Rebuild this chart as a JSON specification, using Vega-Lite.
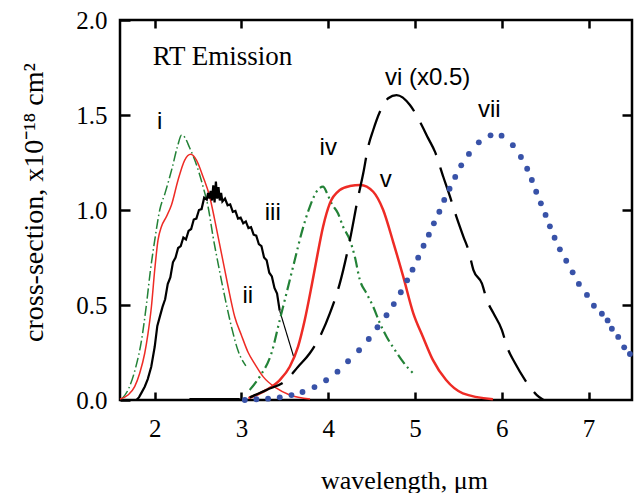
{
  "$schema": "https://vega.github.io/schema/vega-lite/v6.json",
  "width": 512,
  "height": 380,
  "autosize": {"type": "none"},
  "padding": {"left": 120, "top": 20, "right": 4, "bottom": 93},
  "background": "white",
  "datasets": {
    "curves": [
      {"s":"i","x":1.62,"y":0.005},{"s":"i","x":1.70,"y":0.06},{"s":"i","x":1.78,"y":0.17},{"s":"i","x":1.85,"y":0.32},{"s":"i","x":1.904,"y":0.5},{"s":"i","x":1.95,"y":0.68},{"s":"i","x":2.0,"y":0.84},{"s":"i","x":2.058,"y":1.0},{"s":"i","x":2.12,"y":1.09},{"s":"i","x":2.2,"y":1.22},{"s":"i","x":2.26,"y":1.33},{"s":"i","x":2.31,"y":1.395},{"s":"i","x":2.35,"y":1.38},{"s":"i","x":2.4,"y":1.33},{"s":"i","x":2.48,"y":1.24},{"s":"i","x":2.557,"y":1.123},{"s":"i","x":2.615,"y":1.017},{"s":"i","x":2.672,"y":0.86},{"s":"i","x":2.73,"y":0.719},{"s":"i","x":2.807,"y":0.544},{"s":"i","x":2.884,"y":0.386},{"s":"i","x":2.96,"y":0.26},{"s":"i","x":3.05,"y":0.18},
      {"s":"ii","x":1.6,"y":0.005},{"s":"ii","x":1.692,"y":0.026},{"s":"ii","x":1.769,"y":0.07},{"s":"ii","x":1.827,"y":0.141},{"s":"ii","x":1.885,"y":0.246},{"s":"ii","x":1.923,"y":0.351},{"s":"ii","x":1.962,"y":0.491},{"s":"ii","x":2.0,"y":0.684},{"s":"ii","x":2.038,"y":0.842},{"s":"ii","x":2.077,"y":0.912},{"s":"ii","x":2.135,"y":0.965},{"s":"ii","x":2.193,"y":1.026},{"s":"ii","x":2.269,"y":1.158},{"s":"ii","x":2.346,"y":1.263},{"s":"ii","x":2.415,"y":1.293},{"s":"ii","x":2.481,"y":1.263},{"s":"ii","x":2.557,"y":1.175},{"s":"ii","x":2.634,"y":1.07},{"s":"ii","x":2.692,"y":0.947},{"s":"ii","x":2.769,"y":0.772},{"s":"ii","x":2.846,"y":0.596},{"s":"ii","x":2.922,"y":0.438},{"s":"ii","x":3.0,"y":0.34},{"s":"ii","x":3.077,"y":0.25},{"s":"ii","x":3.153,"y":0.19},{"s":"ii","x":3.249,"y":0.123},{"s":"ii","x":3.403,"y":0.062},{"s":"ii","x":3.556,"y":0.026},{"s":"ii","x":3.79,"y":0.005},
      {"s":"iii","x":1.79,"y":0.0},{"s":"iii","x":1.82,"y":0.015},{"s":"iii","x":1.85,"y":0.04},{"s":"iii","x":1.885,"y":0.07},{"s":"iii","x":1.92,"y":0.11},{"s":"iii","x":1.96,"y":0.175},{"s":"iii","x":2.0,"y":0.28},{"s":"iii","x":2.03,"y":0.39},{"s":"iii","x":2.06,"y":0.44},{"s":"iii","x":2.09,"y":0.49},{"s":"iii","x":2.12,"y":0.53},{"s":"iii","x":2.15,"y":0.61},{"s":"iii","x":2.18,"y":0.645},{"s":"iii","x":2.21,"y":0.725},{"s":"iii","x":2.24,"y":0.75},{"s":"iii","x":2.27,"y":0.8},{"s":"iii","x":2.3,"y":0.81},{"s":"iii","x":2.33,"y":0.855},{"s":"iii","x":2.36,"y":0.845},{"s":"iii","x":2.39,"y":0.89},{"s":"iii","x":2.42,"y":0.9},{"s":"iii","x":2.45,"y":0.95},{"s":"iii","x":2.48,"y":0.955},{"s":"iii","x":2.51,"y":1.0},{"s":"iii","x":2.54,"y":1.005},{"s":"iii","x":2.57,"y":1.065},{"s":"iii","x":2.6,"y":1.055},{"s":"iii","x":2.615,"y":1.09},{"s":"iii","x":2.63,"y":1.06},{"s":"iii","x":2.645,"y":1.1},{"s":"iii","x":2.66,"y":1.05},{"s":"iii","x":2.675,"y":1.13},{"s":"iii","x":2.69,"y":1.04},{"s":"iii","x":2.705,"y":1.15},{"s":"iii","x":2.72,"y":1.06},{"s":"iii","x":2.735,"y":1.12},{"s":"iii","x":2.75,"y":1.05},{"s":"iii","x":2.765,"y":1.09},{"s":"iii","x":2.78,"y":1.045},{"s":"iii","x":2.81,"y":1.06},{"s":"iii","x":2.84,"y":1.025},{"s":"iii","x":2.87,"y":1.03},{"s":"iii","x":2.9,"y":0.99},{"s":"iii","x":2.93,"y":0.995},{"s":"iii","x":2.96,"y":0.955},{"s":"iii","x":2.99,"y":0.96},{"s":"iii","x":3.02,"y":0.93},{"s":"iii","x":3.05,"y":0.94},{"s":"iii","x":3.08,"y":0.905},{"s":"iii","x":3.11,"y":0.91},{"s":"iii","x":3.14,"y":0.87},{"s":"iii","x":3.17,"y":0.865},{"s":"iii","x":3.2,"y":0.82},{"s":"iii","x":3.23,"y":0.81},{"s":"iii","x":3.26,"y":0.75},{"s":"iii","x":3.29,"y":0.735},{"s":"iii","x":3.32,"y":0.67},{"s":"iii","x":3.35,"y":0.65},{"s":"iii","x":3.38,"y":0.59},{"s":"iii","x":3.41,"y":0.56},{"s":"iii","x":3.44,"y":0.47},
      {"s":"iiitail","x":3.44,"y":0.47},{"s":"iiitail","x":3.6,"y":0.23},
      {"s":"base","x":2.4,"y":0.006},{"s":"base","x":2.98,"y":0.006},
      {"s":"iv","x":3.095,"y":0.053},{"s":"iv","x":3.21,"y":0.123},{"s":"iv","x":3.345,"y":0.246},{"s":"iv","x":3.441,"y":0.421},{"s":"iv","x":3.518,"y":0.561},{"s":"iv","x":3.614,"y":0.737},{"s":"iv","x":3.691,"y":0.877},{"s":"iv","x":3.787,"y":1.017},{"s":"iv","x":3.864,"y":1.096},{"s":"iv","x":3.94,"y":1.123},{"s":"iv","x":3.986,"y":1.088},{"s":"iv","x":4.037,"y":1.035},{"s":"iv","x":4.113,"y":0.982},{"s":"iv","x":4.171,"y":0.912},{"s":"iv","x":4.249,"y":0.842},{"s":"iv","x":4.306,"y":0.754},{"s":"iv","x":4.364,"y":0.632},{"s":"iv","x":4.441,"y":0.561},{"s":"iv","x":4.518,"y":0.491},{"s":"iv","x":4.595,"y":0.404},{"s":"iv","x":4.672,"y":0.333},{"s":"iv","x":4.768,"y":0.263},{"s":"iv","x":4.845,"y":0.211},{"s":"iv","x":4.922,"y":0.167},{"s":"iv","x":4.999,"y":0.132},
      {"s":"v","x":3.08,"y":0.01},{"s":"v","x":3.288,"y":0.053},{"s":"v","x":3.441,"y":0.105},{"s":"v","x":3.556,"y":0.175},{"s":"v","x":3.652,"y":0.281},{"s":"v","x":3.729,"y":0.421},{"s":"v","x":3.806,"y":0.596},{"s":"v","x":3.864,"y":0.737},{"s":"v","x":3.94,"y":0.912},{"s":"v","x":4.018,"y":1.035},{"s":"v","x":4.133,"y":1.105},{"s":"v","x":4.249,"y":1.126},{"s":"v","x":4.37,"y":1.132},{"s":"v","x":4.518,"y":1.096},{"s":"v","x":4.633,"y":1.0},{"s":"v","x":4.749,"y":0.83},{"s":"v","x":4.864,"y":0.649},{"s":"v","x":4.98,"y":0.456},{"s":"v","x":5.09,"y":0.333},{"s":"v","x":5.205,"y":0.211},{"s":"v","x":5.358,"y":0.105},{"s":"v","x":5.551,"y":0.035},{"s":"v","x":5.897,"y":0.004},
      {"s":"vi","x":3.095,"y":0.014},{"s":"vi","x":3.288,"y":0.053},{"s":"vi","x":3.518,"y":0.105},{"s":"vi","x":3.652,"y":0.175},{"s":"vi","x":3.787,"y":0.246},{"s":"vi","x":3.922,"y":0.351},{"s":"vi","x":4.018,"y":0.456},{"s":"vi","x":4.133,"y":0.614},{"s":"vi","x":4.249,"y":0.842},{"s":"vi","x":4.345,"y":1.07},{"s":"vi","x":4.403,"y":1.193},{"s":"vi","x":4.46,"y":1.333},{"s":"vi","x":4.518,"y":1.421},{"s":"vi","x":4.595,"y":1.517},{"s":"vi","x":4.691,"y":1.588},{"s":"vi","x":4.787,"y":1.605},{"s":"vi","x":4.941,"y":1.553},{"s":"vi","x":5.056,"y":1.465},{"s":"vi","x":5.152,"y":1.377},{"s":"vi","x":5.229,"y":1.307},{"s":"vi","x":5.325,"y":1.175},{"s":"vi","x":5.403,"y":1.07},{"s":"vi","x":5.48,"y":0.96},{"s":"vi","x":5.558,"y":0.859},{"s":"vi","x":5.615,"y":0.789},{"s":"vi","x":5.673,"y":0.684},{"s":"vi","x":5.77,"y":0.614},{"s":"vi","x":5.828,"y":0.526},{"s":"vi","x":5.904,"y":0.456},{"s":"vi","x":6.001,"y":0.368},{"s":"vi","x":6.059,"y":0.281},{"s":"vi","x":6.153,"y":0.193},{"s":"vi","x":6.268,"y":0.105},{"s":"vi","x":6.403,"y":0.026},{"s":"vi","x":6.48,"y":0.0},
      {"s":"vii","x":3.038,"y":0.0},{"s":"vii","x":3.172,"y":0.004},{"s":"vii","x":3.306,"y":0.007},{"s":"vii","x":3.441,"y":0.014},{"s":"vii","x":3.576,"y":0.026},{"s":"vii","x":3.703,"y":0.042},{"s":"vii","x":3.841,"y":0.068},{"s":"vii","x":3.975,"y":0.104},{"s":"vii","x":4.106,"y":0.149},{"s":"vii","x":4.228,"y":0.204},{"s":"vii","x":4.355,"y":0.262},{"s":"vii","x":4.467,"y":0.321},{"s":"vii","x":4.567,"y":0.383},{"s":"vii","x":4.671,"y":0.446},{"s":"vii","x":4.755,"y":0.505},{"s":"vii","x":4.836,"y":0.567},{"s":"vii","x":4.909,"y":0.63},{"s":"vii","x":4.971,"y":0.686},{"s":"vii","x":5.036,"y":0.749},{"s":"vii","x":5.098,"y":0.812},{"s":"vii","x":5.159,"y":0.87},{"s":"vii","x":5.217,"y":0.93},{"s":"vii","x":5.28,"y":0.991},{"s":"vii","x":5.336,"y":1.053},{"s":"vii","x":5.398,"y":1.112},{"s":"vii","x":5.463,"y":1.174},{"s":"vii","x":5.532,"y":1.235},{"s":"vii","x":5.621,"y":1.295},{"s":"vii","x":5.735,"y":1.356},{"s":"vii","x":5.87,"y":1.393},{"s":"vii","x":5.997,"y":1.391},{"s":"vii","x":6.127,"y":1.341},{"s":"vii","x":6.22,"y":1.279},{"s":"vii","x":6.292,"y":1.217},{"s":"vii","x":6.346,"y":1.158},{"s":"vii","x":6.396,"y":1.096},{"s":"vii","x":6.45,"y":1.035},{"s":"vii","x":6.504,"y":0.974},{"s":"vii","x":6.554,"y":0.914},{"s":"vii","x":6.608,"y":0.854},{"s":"vii","x":6.669,"y":0.793},{"s":"vii","x":6.742,"y":0.733},{"s":"vii","x":6.816,"y":0.672},{"s":"vii","x":6.888,"y":0.611},{"s":"vii","x":6.981,"y":0.553},{"s":"vii","x":7.061,"y":0.496},{"s":"vii","x":7.153,"y":0.454},{"s":"vii","x":7.219,"y":0.419},{"s":"vii","x":7.268,"y":0.375},{"s":"vii","x":7.341,"y":0.332},{"s":"vii","x":7.41,"y":0.277},{"s":"vii","x":7.476,"y":0.242}
    ],
    "labels": [
      {"t":"i","x":2.058,"y":1.425},
      {"t":"ii","x":3.072,"y":0.511},
      {"t":"iii","x":3.36,"y":0.947},
      {"t":"iv","x":4.0,"y":1.289},
      {"t":"v","x":4.663,"y":1.123},
      {"t":"vi (x0.5)","x":5.145,"y":1.658},
      {"t":"vii","x":5.856,"y":1.491}
    ],
    "title": [
      {"t":"RT Emission","x":1.977,"y":1.763}
    ]
  },
  "layer": [
    {
      "data": {"name": "curves"},
      "transform": [{"filter": "datum.s === 'i'"}],
      "mark": {"type": "line", "color": "#238237", "strokeWidth": 1.5, "strokeDash": [10, 3, 1.5, 3], "interpolate": "monotone"},
      "encoding": {
        "x": {"field": "x", "type": "quantitative", "scale": {"domain": [1.6, 7.5], "nice": false, "zero": false},
          "axis": {"orient": "bottom", "values": [2, 3, 4, 5, 6, 7], "tickSize": -8, "labelPadding": 24, "title": "wavelength, μm", "titleX": 284, "titleY": 88, "titleBaseline": "alphabetic", "titleAlign": "center"}},
        "y": {"field": "y", "type": "quantitative", "scale": {"domain": [0, 2], "nice": false},
          "axis": {"orient": "left", "values": [0, 0.5, 1, 1.5, 2], "format": ".1f", "tickSize": -10, "labelPadding": 23, "title": "cross-section, x10⁻¹⁸ cm²", "titleFontSize": 28, "titleX": -78, "titleY": 182, "titleAngle": 270, "titleBaseline": "alphabetic", "titleAlign": "center"}}
      }
    },
    {
      "data": {"name": "curves"},
      "transform": [{"filter": "datum.s === 'ii'"}],
      "mark": {"type": "line", "color": "#ee2b25", "strokeWidth": 1.5, "interpolate": "monotone"},
      "encoding": {
        "x": {"field": "x", "type": "quantitative", "scale": {"domain": [1.6, 7.5], "nice": false, "zero": false},
          "axis": {"orient": "top", "values": [2, 3, 4, 5, 6, 7], "tickSize": -8, "labels": false, "title": null}},
        "y": {"field": "y", "type": "quantitative", "scale": {"domain": [0, 2], "nice": false},
          "axis": {"orient": "right", "values": [0.5, 1, 1.5], "tickSize": -10, "labels": false, "title": null}}
      }
    },
    {
      "data": {"name": "curves"},
      "transform": [{"filter": "datum.s === 'iii'"}],
      "mark": {"type": "line", "color": "black", "strokeWidth": 2.2},
      "encoding": {
        "x": {"field": "x", "type": "quantitative", "scale": {"domain": [1.6, 7.5], "nice": false, "zero": false}, "axis": null},
        "y": {"field": "y", "type": "quantitative", "scale": {"domain": [0, 2], "nice": false}, "axis": null}
      }
    },
    {
      "data": {"name": "curves"},
      "transform": [{"filter": "datum.s === 'iiitail'"}],
      "mark": {"type": "line", "color": "black", "strokeWidth": 1.2},
      "encoding": {
        "x": {"field": "x", "type": "quantitative", "scale": {"domain": [1.6, 7.5], "nice": false, "zero": false}, "axis": null},
        "y": {"field": "y", "type": "quantitative", "scale": {"domain": [0, 2], "nice": false}, "axis": null}
      }
    },
    {
      "data": {"name": "curves"},
      "transform": [{"filter": "datum.s === 'base'"}],
      "mark": {"type": "line", "color": "black", "strokeWidth": 1.8},
      "encoding": {
        "x": {"field": "x", "type": "quantitative", "scale": {"domain": [1.6, 7.5], "nice": false, "zero": false}, "axis": null},
        "y": {"field": "y", "type": "quantitative", "scale": {"domain": [0, 2], "nice": false}, "axis": null}
      }
    },
    {
      "data": {"name": "curves"},
      "transform": [{"filter": "datum.s === 'iv'"}],
      "mark": {"type": "line", "color": "#238237", "strokeWidth": 2.2, "strokeDash": [11, 4, 2, 4, 2, 4], "interpolate": "monotone"},
      "encoding": {
        "x": {"field": "x", "type": "quantitative", "scale": {"domain": [1.6, 7.5], "nice": false, "zero": false}, "axis": null},
        "y": {"field": "y", "type": "quantitative", "scale": {"domain": [0, 2], "nice": false}, "axis": null}
      }
    },
    {
      "data": {"name": "curves"},
      "transform": [{"filter": "datum.s === 'v'"}],
      "mark": {"type": "line", "color": "#ee2b25", "strokeWidth": 2.5, "interpolate": "monotone"},
      "encoding": {
        "x": {"field": "x", "type": "quantitative", "scale": {"domain": [1.6, 7.5], "nice": false, "zero": false}, "axis": null},
        "y": {"field": "y", "type": "quantitative", "scale": {"domain": [0, 2], "nice": false}, "axis": null}
      }
    },
    {
      "data": {"name": "curves"},
      "transform": [{"filter": "datum.s === 'vi'"}],
      "mark": {"type": "line", "color": "black", "strokeWidth": 2.3, "strokeDash": [36, 13], "interpolate": "monotone"},
      "encoding": {
        "x": {"field": "x", "type": "quantitative", "scale": {"domain": [1.6, 7.5], "nice": false, "zero": false}, "axis": null},
        "y": {"field": "y", "type": "quantitative", "scale": {"domain": [0, 2], "nice": false}, "axis": null}
      }
    },
    {
      "data": {"name": "curves"},
      "transform": [{"filter": "datum.s === 'vii'"}],
      "mark": {"type": "circle", "color": "#3852a8", "size": 34, "opacity": 1},
      "encoding": {
        "x": {"field": "x", "type": "quantitative", "scale": {"domain": [1.6, 7.5], "nice": false, "zero": false}, "axis": null},
        "y": {"field": "y", "type": "quantitative", "scale": {"domain": [0, 2], "nice": false}, "axis": null}
      }
    },
    {
      "data": {"name": "labels"},
      "mark": {"type": "text", "font": "Liberation Sans", "fontSize": 24, "color": "black", "align": "center", "baseline": "alphabetic"},
      "encoding": {
        "x": {"field": "x", "type": "quantitative", "scale": {"domain": [1.6, 7.5], "nice": false, "zero": false}, "axis": null},
        "y": {"field": "y", "type": "quantitative", "scale": {"domain": [0, 2], "nice": false}, "axis": null},
        "text": {"field": "t"}
      }
    },
    {
      "data": {"name": "title"},
      "mark": {"type": "text", "font": "Liberation Serif", "fontSize": 27, "color": "black", "align": "left", "baseline": "alphabetic"},
      "encoding": {
        "x": {"field": "x", "type": "quantitative", "scale": {"domain": [1.6, 7.5], "nice": false, "zero": false}, "axis": null},
        "y": {"field": "y", "type": "quantitative", "scale": {"domain": [0, 2], "nice": false}, "axis": null},
        "text": {"field": "t"}
      }
    }
  ],
  "resolve": {"axis": {"x": "independent", "y": "independent"}},
  "config": {
    "view": {"stroke": "black", "strokeWidth": 2.5},
    "axis": {"grid": false, "domain": false, "tickColor": "black", "tickWidth": 2.5, "labelFont": "Liberation Serif", "labelFontSize": 25, "labelColor": "black", "titleFont": "Liberation Serif", "titleFontSize": 26, "titleFontWeight": "normal", "titleColor": "black"}
  }
}
